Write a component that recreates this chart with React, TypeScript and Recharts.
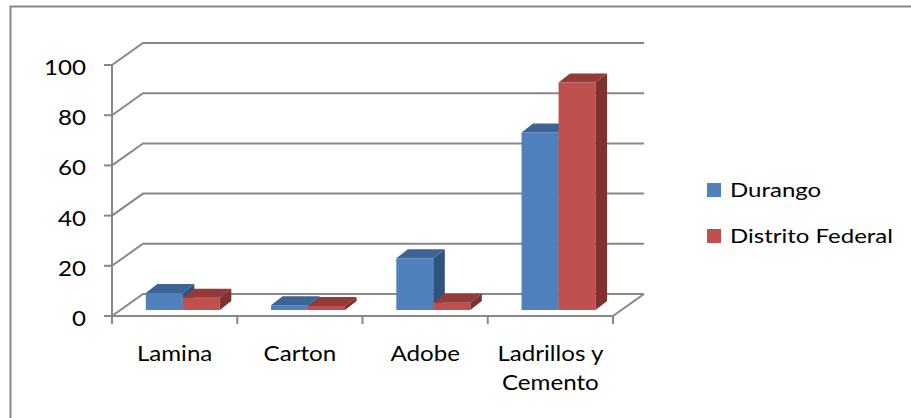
import React from 'react';
import { ComposedChart, Bar, XAxis, YAxis, CartesianGrid } from 'recharts';

const categories = ['Lamina', 'Carton', 'Adobe', 'Ladrillos y Cemento'];
const durango = [6.8, 1.9, 20.6, 70.7];
const distritoFederal = [4.9, 1.6, 2.9, 90.6];
const yTicks = [0, 20, 40, 60, 80, 100];
const seriesNames = ['Durango', 'Distrito Federal'];
const frontColors = ['#4F81BD', '#C0504D'];
const topColors = ['#3C6595', '#943B39'];
const sideColors = ['#30527F', '#7E312F'];

const data = categories.map((c, i) => ({ name: c, durango: durango[i], df: distritoFederal[i] }));

const WALL_DX = 31;
const WALL_DY = 22;
const SHIFT_X = 8;
const SHIFT_Y = 6;
const BAR_DX = 11.5;
const BAR_DY = 9;
const AXIS = '#888888';
const FONT = 'Lato, "Open Sans", sans-serif';
const SX = 1.15;

const makeBar = (k: number) => (props: any) => {
  const { x, y, width, height } = props;
  if (width == null || height == null) return <g />;
  const x0 = x + SHIFT_X;
  const y0 = y - SHIFT_Y;
  const w = width;
  const h = height;
  return (
    <g>
      <rect x={x0} y={y0} width={w} height={h} fill={frontColors[k]} />
      <polygon
        points={`${x0},${y0} ${x0 + BAR_DX},${y0 - BAR_DY} ${x0 + w + BAR_DX},${y0 - BAR_DY} ${x0 + w},${y0}`}
        fill={topColors[k]}
      />
      <polygon
        points={`${x0 + w},${y0} ${x0 + w + BAR_DX},${y0 - BAR_DY} ${x0 + w + BAR_DX},${y0 + h - BAR_DY} ${x0 + w},${y0 + h}`}
        fill={sideColors[k]}
      />
    </g>
  );
};

const gridLine = (p: any) => {
  const { x1, y1, x2, index } = p;
  let d = `M${x1},${y1} L${x1 + WALL_DX},${y1 - WALL_DY} L${x2 + WALL_DX},${y1 - WALL_DY}`;
  if (index === 0) d += ` M${x2},${y1} L${x2 + WALL_DX},${y1 - WALL_DY}`;
  return <path key={`g-${index}`} d={d} stroke={AXIS} strokeWidth={2} fill="none" />;
};

const wrap = (s: string, max = 11) => {
  const words = s.split(' ');
  const lines: string[] = [];
  let cur = '';
  words.forEach((w) => {
    const next = cur ? cur + ' ' + w : w;
    if (next.length > max && cur) {
      lines.push(cur);
      cur = w;
    } else cur = next;
  });
  if (cur) lines.push(cur);
  return lines;
};

const XTick = (props: any) => {
  const { x, y, payload, index, width } = props;
  const off = payload?.offset || (width ? width / categories.length / 2 : 62);
  const lines = wrap(String(payload.value));
  return (
    <g>
      <line x1={x - off} y1={y} x2={x - off} y2={y + 8} stroke={AXIS} strokeWidth={2} />
      {index === categories.length - 1 && (
        <line x1={x + off} y1={y} x2={x + off} y2={y + 8} stroke={AXIS} strokeWidth={2} />
      )}
      <text
        transform={`translate(${x},${y + 45}) scale(${SX},1)`}
        textAnchor="middle"
        fontFamily={FONT}
        fontSize={21}
        fill="#000"
      >
        {lines.map((l, i) => (
          <tspan key={i} x={0} dy={i ? 29 : 0}>
            {l}
          </tspan>
        ))}
      </text>
    </g>
  );
};

const YTick = (props: any) => {
  const { x, y, payload } = props;
  return (
    <text
      transform={`translate(${x},${y + 10}) scale(1.15,1)`}
      textAnchor="end"
      fontFamily={FONT}
      fontSize={21}
      fill="#000"
    >
      {payload.value}
    </text>
  );
};

export default function App() {
  return (
    <div style={{ position: 'absolute', left: 0, top: 0, width: 911, height: 418, background: '#fff' }}>
      <ComposedChart
        width={911}
        height={418}
        data={data}
        margin={{ top: 65, right: 298, bottom: 42, left: 12 }}
        barCategoryGap="20.6%"
        barGap={0}
      >
        <CartesianGrid vertical={false} horizontal={gridLine} />
        <XAxis
          dataKey="name"
          height={60}
          tickSize={0}
          tickMargin={0}
          tickLine={false}
          axisLine={{ stroke: AXIS, strokeWidth: 2 }}
          tick={<XTick />}
          interval={0}
        />
        <YAxis
          width={100}
          domain={[0, 100]}
          ticks={yTicks}
          tickSize={8}
          tickMargin={18}
          tickLine={{ stroke: AXIS, strokeWidth: 2 }}
          axisLine={{ stroke: AXIS, strokeWidth: 2 }}
          tick={<YTick />}
        />
        <Bar dataKey="durango" name={seriesNames[0]} fill={frontColors[0]} shape={makeBar(0)} isAnimationActive={false} />
        <Bar dataKey="df" name={seriesNames[1]} fill={frontColors[1]} shape={makeBar(1)} isAnimationActive={false} />
      </ComposedChart>
      <svg width={911} height={418} style={{ position: 'absolute', left: 0, top: 0, pointerEvents: 'none' }}>
        <path d="M10.5,418 V6.5 H911" stroke={AXIS} strokeWidth={2} fill="none" />
        {seriesNames.map((n, i) => (
          <g key={n}>
            <rect x={707} y={183 + i * 46} width={14} height={14} fill={frontColors[i]} />
            <text
              transform={`translate(730,${197 + i * 46}) scale(1.2,1)`}
              fontFamily={FONT}
              fontSize={20}
              fill="#000"
            >
              {n}
            </text>
          </g>
        ))}
      </svg>
    </div>
  );
}
